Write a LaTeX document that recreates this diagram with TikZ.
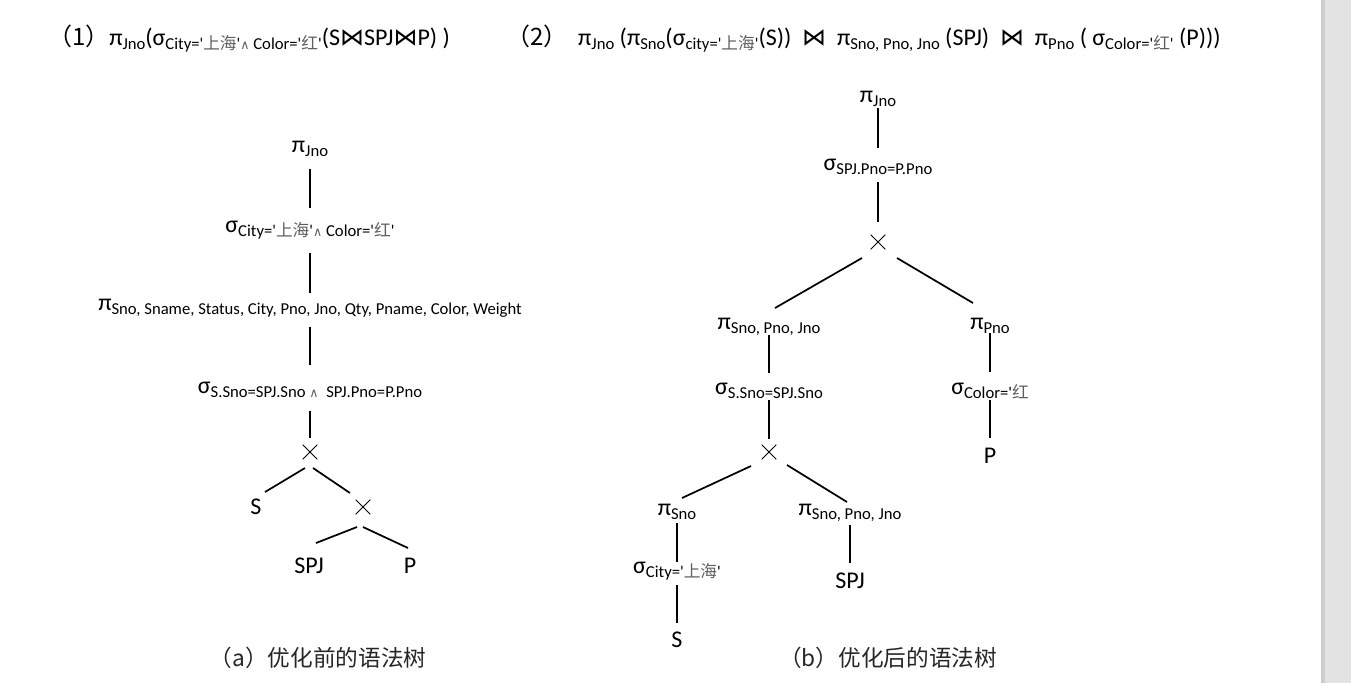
\documentclass[tikz,border=0pt]{standalone}
\usepackage{fontspec}
\newfontfamily\calibri{Carlito}
\newfontfamily\cjk{Noto Sans CJK SC}
\newfontfamily\symf{DejaVu Sans}
\usetikzlibrary{shapes.misc}
\definecolor{zhgray}{RGB}{95,95,95}
\definecolor{barfill}{RGB}{227,227,227}
\definecolor{baredge}{RGB}{205,205,205}
\newcommand{\lo}[1]{\raisebox{-3pt}{\fontsize{12.5}{14}\selectfont #1}}
\newcommand{\zh}[1]{{\cjk\color{zhgray}#1}}
\newcommand{\aand}{{\symf\fontsize{9.5}{10}\selectfont\color{zhgray}∧}}
\newcommand{\join}{{\symf ⋈}}

\begin{document}
\begin{tikzpicture}[x=0.75pt,y=-0.75pt,
	every node/.style={font=\calibri\fontsize{18}{21}\selectfont,inner sep=0pt,outer sep=0pt},
	op/.style={anchor=base},
	prod/.style={cross out,draw,line width=0.7pt,minimum size=11pt},
	caption/.style={anchor=base,font=\cjk\fontsize{17}{19}\selectfont,text=black!85},
	link/.style={line width=1.3pt}]
			\useasboundingbox (0,0) rectangle (1351,683);
			\fill[barfill] (1321,0) rectangle (1351,683);
			\fill[baredge] (1321,0) rectangle (1325,683);
			% expressions
			\node[anchor=base west] (ea) at (48,45) {{\cjk （1）}π\lo{Jno}(σ\lo{City='\zh{上海}'\aand{} Color='\zh{红}'}(S\join SPJ\join P) )};
			\node[anchor=base west] (eb) at (506,45) {{\cjk （2）}\ \ π\lo{Jno} (π\lo{Sno}(σ\lo{city='\zh{上海}'}(S))\ \ \join\ \ π\lo{Sno, Pno, Jno} (SPJ)\ \ \join\ \ π\lo{Pno} ( σ\lo{Color='\zh{红}'} (P)))};
			% tree (a)
			\node[op] (pja) at (310,152) {π\lo{Jno}};
			\node[op] (sga) at (310,232) {σ\lo{City='\zh{上海}'\aand{} Color='\zh{红}'}};
			\node[op] (pla) at (310,310) {π\lo{Sno, Sname, Status, City, Pno, Jno, Qty, Pname, Color, Weight}};
			\node[op] (sja) at (310,393) {σ\lo{S.Sno=SPJ.Sno \aand\ \ SPJ.Pno=P.Pno}};
			\node[prod] (xa1) at (310,452) {};
			\node[op] (sa) at (256,514) {S};
			\node[prod] (xa2) at (363,507) {};
			\node[op] (spja) at (309,573) {SPJ};
			\node[op] (pa) at (410,573) {P};
			\node[caption] (capa) at (318,666) {（a）优化前的语法树};
			\draw[link]([shift={(0,17)}]pja.base)--([shift={(0,-24)}]sga.base);
			\draw[link]([shift={(0,21)}]sga.base)--([shift={(0,-17)}]pla.base);
			\draw[link]([shift={(0,17)}]pla.base)--([shift={(0,-28)}]sja.base);
			\draw[link]([shift={(0,18)}]sja.base)--([shift={(0,-14)}]xa1.center);
			\draw[link]([shift={(-5,16)}]xa1.center)--([shift={(9,-22)}]sa.base);
			\draw[link]([shift={(3,16)}]xa1.center)--([shift={(-13,-14)}]xa2.center);
			\draw[link]([shift={(-6,20)}]xa2.center)--([shift={(7,-30)}]spja.base);
			\draw[link]([shift={(0,20)}]xa2.center)--([shift={(-2,-25)}]pa.base);
			% tree (b)
			\node[op] (pjb) at (878,102) {π\lo{Jno}};
			\node[op] (sgb) at (878,170) {σ\lo{SPJ.Pno=P.Pno}};
			\node[prod] (xb1) at (878,242) {};
			\node[op] (plb) at (769,329) {π\lo{Sno, Pno, Jno}};
			\node[op] (ppb) at (990,329) {π\lo{Pno}};
			\node[op] (ssb) at (769,394) {σ\lo{S.Sno=SPJ.Sno}};
			\node[op] (scb) at (990,394) {σ\lo{Color='\zh{红}}};
			\node[op] (pb) at (990,463) {P};
			\node[prod] (xb2) at (769,452) {};
			\node[op] (psb) at (677,515) {π\lo{Sno}};
			\node[op] (pqb) at (850,515) {π\lo{Sno, Pno, Jno}};
			\node[op] (scib) at (677,573) {σ\lo{City='\zh{上海}'}};
			\node[op] (sb) at (677,647) {S};
			\node[op] (spjb) at (850,588) {SPJ};
			\node[caption] (capb) at (888,666) {（b）优化后的语法树};
			\draw[link]([shift={(0,6)}]pjb.base)--([shift={(0,-22)}]sgb.base);
			\draw[link]([shift={(0,12)}]sgb.base)--([shift={(0,-20)}]xb1.center);
			\draw[link]([shift={(-16,16)}]xb1.center)--([shift={(6,-21)}]plb.base);
			\draw[link]([shift={(19,16)}]xb1.center)--([shift={(-17,-26)}]ppb.base);
			\draw[link]([shift={(0,6)}]plb.base)--([shift={(0,-21)}]ssb.base);
			\draw[link]([shift={(0,6)}]ssb.base)--([shift={(0,-13)}]xb2.center);
			\draw[link]([shift={(0,4)}]ppb.base)--([shift={(0,-22)}]scb.base);
			\draw[link]([shift={(0,6)}]scb.base)--([shift={(0,-25)}]pb.base);
			\draw[link]([shift={(-18,14)}]xb2.center)--([shift={(5,-17)}]psb.base);
			\draw[link]([shift={(18,13)}]xb2.center)--([shift={(-3,-13)}]pqb.base);
			\draw[link]([shift={(0,8)}]psb.base)--([shift={(0,-11)}]scib.base);
			\draw[link]([shift={(0,12)}]scib.base)--([shift={(0,-24)}]sb.base);
			\draw[link]([shift={(0,10)}]pqb.base)--([shift={(0,-25)}]spjb.base);
\end{tikzpicture}
\end{document}
